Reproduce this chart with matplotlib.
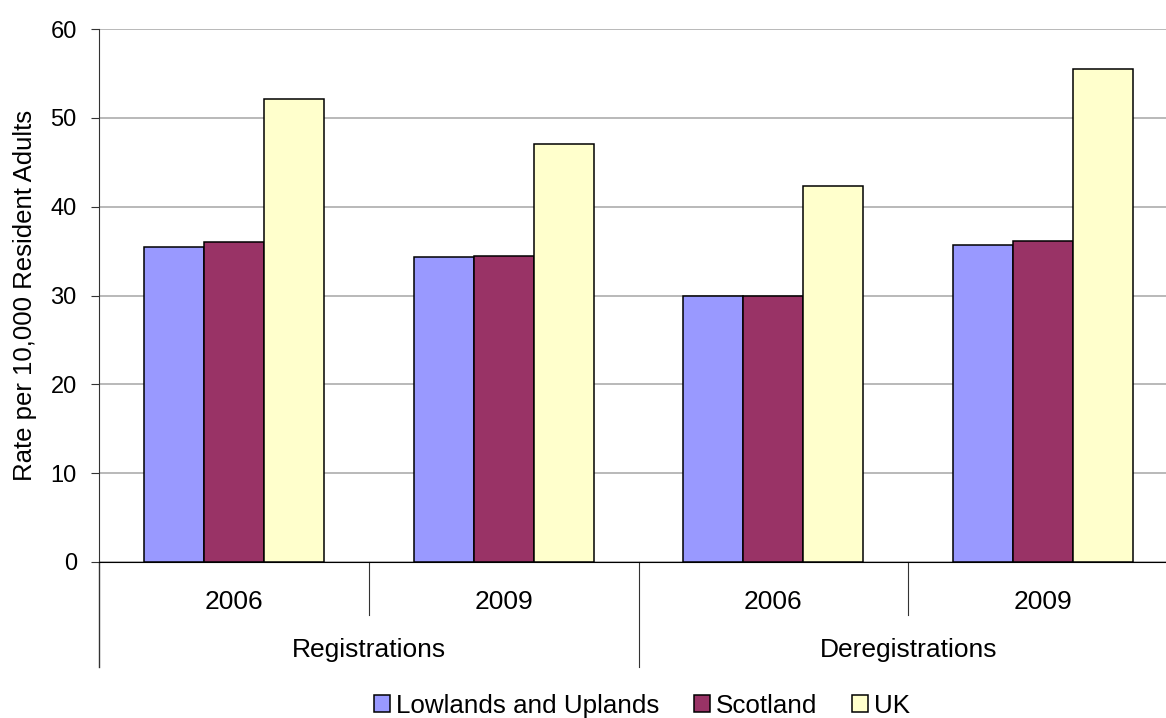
import numpy as np
import matplotlib
matplotlib.use("Agg")
import matplotlib.pyplot as plt
from matplotlib.transforms import blended_transform_factory

# data
groups = ["Registrations", "Deregistrations"]
years = ["2006", "2009", "2006", "2009"]
series = ["Lowlands and Uplands", "Scotland", "UK"]
lowlands = [35.5, 34.3, 29.9, 35.7]
scotland = [36.0, 34.4, 30.0, 36.1]
uk = [52.1, 47.0, 42.3, 55.5]
colors = ["#9999FF", "#993366", "#FFFFCC"]

plt.rcParams.update({
    "font.family": ["Liberation Sans", "DejaVu Sans"],
    "font.size": 19,
})

fig = plt.figure(figsize=(11.66, 7.18), dpi=100)
# plot area runs a little past the right edge of the picture (cropped original)
ax = fig.add_axes([99 / 1166, 1 - 562 / 718, (1178 - 99) / 1166, (562 - 29) / 718])

x = np.arange(len(years)) + 0.5
w = 0.2225
for i, (vals, c, lab) in enumerate(zip([lowlands, scotland, uk], colors, series)):
    ax.bar(x + (i - 1) * w, vals, width=w, color=c, edgecolor="black",
           linewidth=1.1, label=lab, zorder=3)

ax.set_xlim(0, 4)
ax.set_ylim(0, 60)
ax.set_yticks(range(0, 61, 10))
ax.yaxis.grid(True, color="#A6A6A6", lw=1.1, zorder=0)
ax.set_axisbelow(True)
ax.set_xticks([])
for s in ("top", "right"):
    ax.spines[s].set_visible(False)
ax.spines["left"].set_color("#333333")
ax.spines["bottom"].set_color("black")
ax.tick_params(axis="y", length=6, direction="out", colors="#333333",
               labelcolor="black", labelsize=17, pad=10)
ax.set_ylabel("Rate per 10,000 Resident Adults", fontsize=18.5, labelpad=10)

# two-level category axis below the plot
tr = blended_transform_factory(ax.transData, ax.transAxes)
y_in = -53 / 533   # inner separators length
y_out = -105 / 533  # outer separators length
ax.plot([0, 0], [0, y_out], transform=tr, color="#333333", lw=1, clip_on=False)
for xs in (1, 3):
    ax.plot([xs, xs], [0, y_in], transform=tr, color="#333333", lw=0.8, clip_on=False)
ax.plot([2, 2], [0, y_out], transform=tr, color="#333333", lw=0.8, clip_on=False)
for xi, yr in zip(x, years):
    ax.text(xi, -40 / 533, yr, transform=tr, ha="center", va="center", fontsize=19)
for gi, g in enumerate(groups):
    ax.text(1 + 2 * gi, -88 / 533, g, transform=tr, ha="center", va="center", fontsize=19)

fig.legend(loc="center left", bbox_to_anchor=(364 / 1166, 1 - 706 / 718), ncol=3,
           frameon=False, fontsize=18.7, handlelength=0.62, handleheight=0.62,
           handletextpad=0.2, columnspacing=1.36, borderaxespad=0)

fig.savefig("out.png", dpi=100)
